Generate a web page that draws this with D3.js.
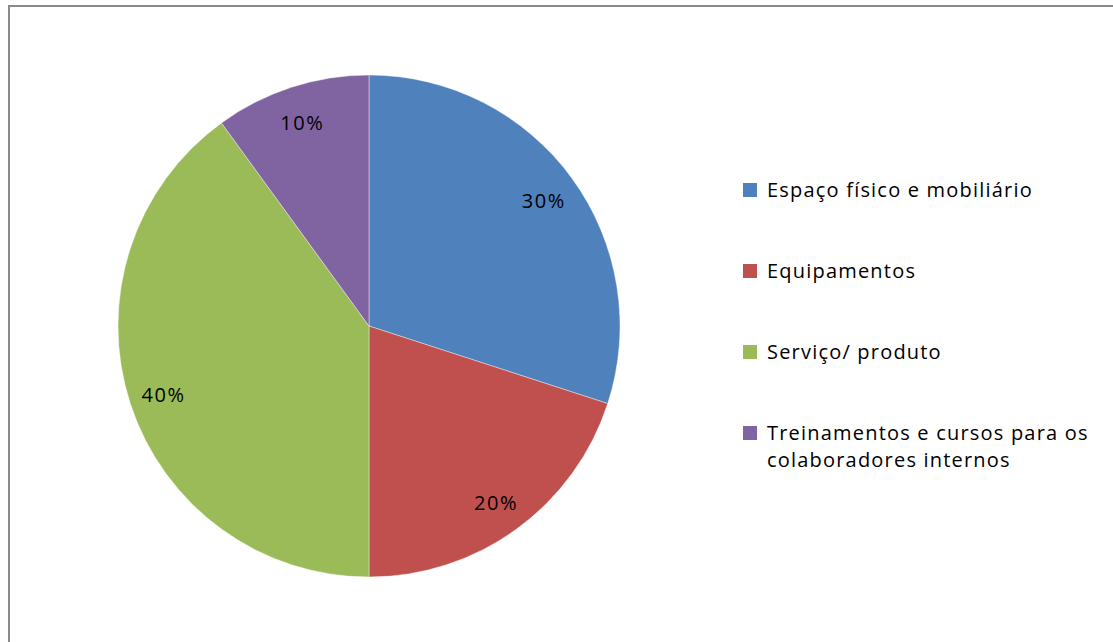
<!DOCTYPE html>
<html>
<head>
<meta charset="utf-8">
<script src="https://cdn.jsdelivr.net/npm/d3@7"></script>
<style>
  body { margin: 0; background: #fff; }
  svg text { font-family: "Open Sans", Lato, sans-serif; fill: #000; }
</style>
</head>
<body>
<svg id="chart" width="1113" height="642"></svg>
<script>
const CATEGORIES = ["Espaço físico e mobiliário", "Equipamentos", "Serviço/ produto", "Treinamentos e cursos para os|colaboradores internos"];
const VALUES = [30, 20, 40, 10];
const COLORS = ["#4F81BD", "#C0504D", "#9BBB59", "#8064A2"];

const CX = 369, CY = 326, R = 251, LABEL_R = 216;

const svg = d3.select("#chart");

// chart frame (cropped at the right and bottom)
svg.append("rect")
  .attr("x", 9).attr("y", 6)
  .attr("width", 1200).attr("height", 700)
  .attr("fill", "none")
  .attr("stroke", "#898989")
  .attr("stroke-width", 2);

const pie = d3.pie().sort(null).value(d => d);
const arc = d3.arc().innerRadius(0).outerRadius(R);
const labelArc = d3.arc().innerRadius(LABEL_R).outerRadius(LABEL_R);
const total = d3.sum(VALUES);

const g = svg.append("g").attr("transform", `translate(${CX},${CY})`);
const arcs = pie(VALUES);

g.selectAll("path")
  .data(arcs)
  .join("path")
  .attr("d", arc)
  .attr("fill", (d, i) => COLORS[i])
  .attr("stroke", "rgba(255,255,255,0.5)")
  .attr("stroke-width", 0.8);

g.selectAll("text.pct")
  .data(arcs)
  .join("text")
  .attr("class", "pct")
  .attr("transform", d => `translate(${labelArc.centroid(d)})`)
  .attr("text-anchor", "middle")
  .attr("dy", "0.45em")
  .attr("font-size", 20)
  .attr("letter-spacing", 1.5)
  .text(d => Math.round(d.value / total * 100) + "%");

// legend
const LEG_X = 743, LEG_Y0 = 183, LEG_STEP = 81;
const leg = svg.append("g");
CATEGORIES.forEach((name, i) => {
  const y = LEG_Y0 + i * LEG_STEP;
  leg.append("rect")
    .attr("x", LEG_X).attr("y", y)
    .attr("width", 14).attr("height", 14)
    .attr("fill", COLORS[i]);
  const t = leg.append("text")
    .attr("x", LEG_X + 24)
    .attr("y", y + 14)
    .attr("font-size", 20)
    .attr("letter-spacing", 1.2);
  name.split("|").forEach((line, j) => {
    t.append("tspan")
      .attr("x", LEG_X + 24)
      .attr("dy", j === 0 ? 0 : 27)
      .text(line);
  });
});
</script>
</body>
</html>
